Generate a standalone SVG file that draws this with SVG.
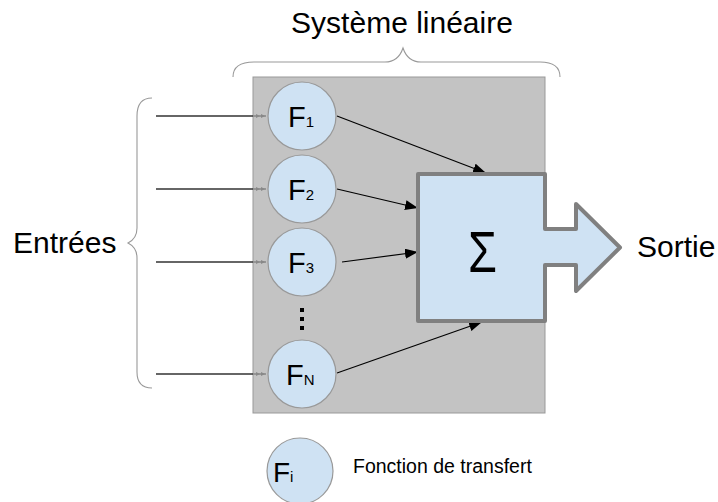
<svg xmlns="http://www.w3.org/2000/svg" width="718" height="502" viewBox="0 0 718 502">
<defs>
<style>
.lbl{font-family:"Liberation Sans",Arial,sans-serif;fill:#000}
.node{fill:#cfe2f3;stroke:#999;stroke-width:1.2}
.inp{stroke:#333;stroke-width:1.3;fill:none}
.inp2{stroke:#888;stroke-width:1.3;fill:none}
.conn{stroke:#000;stroke-width:1.2;fill:none;marker-end:url(#ah)}
.brace{stroke:#999;stroke-width:1.1;fill:none}
</style>
<marker id="ah" markerUnits="userSpaceOnUse" markerWidth="14" markerHeight="10" refX="13" refY="5" orient="auto">
<path d="M0,0 L13,5 L0,10 Z" fill="#000"/>
</marker>
</defs>
<rect width="718" height="502" fill="#fff"/>

<g id="titre">
<text class="lbl" x="402" y="33" font-size="30" text-anchor="middle">Système linéaire</text>
<path class="brace" d="M233,77 C233,67 240,62 254,62 L385,62 C395,62 400,57 403,48 C406,57 411,62 421,62 L540,62 C553,62 560,67 560,77"/>
</g>

<g id="systeme">
<rect x="253" y="77" width="292" height="336" fill="#c3c3c3" stroke="#999" stroke-width="1"/>
</g>

<g id="entrees">
<text class="lbl" x="13" y="253" font-size="30">Entrées</text>
<path class="brace" d="M152,98 C143,98 137,103 137,116 L137,228 C137,236 134,240 128,243 C134,246 137,250 137,258 L137,372 C137,383 143,388 152,388"/>
</g>

<g id="connecteurs">
<line class="inp" x1="156" y1="116" x2="253" y2="116"/>
<line class="inp" x1="156" y1="189" x2="253" y2="189"/>
<line class="inp" x1="156" y1="262" x2="253" y2="262"/>
<line class="inp" x1="156" y1="374" x2="253" y2="374"/>
<path class="inp2" d="M253,116 L266,116 M253,189 L266,189 M253,262 L266,262 M253,374 L266,374"/>
<path d="M256,114 L260,116 L256,118 Z M261,114 L265,116 L261,118 Z M256,187 L260,189 L256,191 Z M261,187 L265,189 L261,191 Z M256,260 L260,262 L256,264 Z M261,260 L265,262 L261,264 Z M256,372 L260,374 L256,376 Z M261,372 L265,374 L261,376 Z" fill="#888"/>
<line class="conn" x1="337" y1="116" x2="486" y2="173"/>
<line class="conn" x1="337" y1="189" x2="418" y2="208"/>
<line class="conn" x1="342" y1="262" x2="418" y2="252"/>
<line class="conn" x1="337" y1="373" x2="482" y2="322"/>
</g>

<g id="F1">
<circle class="node" cx="302" cy="116" r="34"/>
<text class="lbl" x="288" y="127" font-size="29">F<tspan font-size="15">1</tspan></text>
</g>
<g id="F2">
<circle class="node" cx="302" cy="189" r="34"/>
<text class="lbl" x="288" y="200" font-size="29">F<tspan font-size="15">2</tspan></text>
</g>
<g id="F3">
<circle class="node" cx="302" cy="262" r="34"/>
<text class="lbl" x="288" y="273" font-size="29">F<tspan font-size="15">3</tspan></text>
</g>
<g id="points">
<rect x="300" y="308" width="4" height="4" fill="#000"/>
<rect x="300" y="317" width="4" height="4" fill="#000"/>
<rect x="300" y="326" width="4" height="4" fill="#000"/>
</g>
<g id="FN">
<circle class="node" cx="302" cy="374" r="34"/>
<text class="lbl" x="286" y="385" font-size="29">F<tspan font-size="15">N</tspan></text>
</g>

<g id="somme">
<path d="M418,174 L545,174 L545,229 L576,229 L576,204 L620,247.5 L576,291 L576,265 L545,265 L545,321 L418,321 Z" fill="#cfe2f3" stroke="#808080" stroke-width="4" stroke-linejoin="round"/>
<text class="lbl" x="468" y="272" font-size="58" textLength="29" lengthAdjust="spacingAndGlyphs">Σ</text>
</g>

<g id="sortie">
<text class="lbl" x="637" y="257" font-size="30">Sortie</text>
</g>

<g id="legende">
<circle class="node" cx="300" cy="471" r="33"/>
<text class="lbl" x="273" y="482" font-size="28">F<tspan font-size="15">i</tspan></text>
<text class="lbl" x="353" y="473" font-size="19.5">Fonction de transfert</text>
</g>
</svg>
